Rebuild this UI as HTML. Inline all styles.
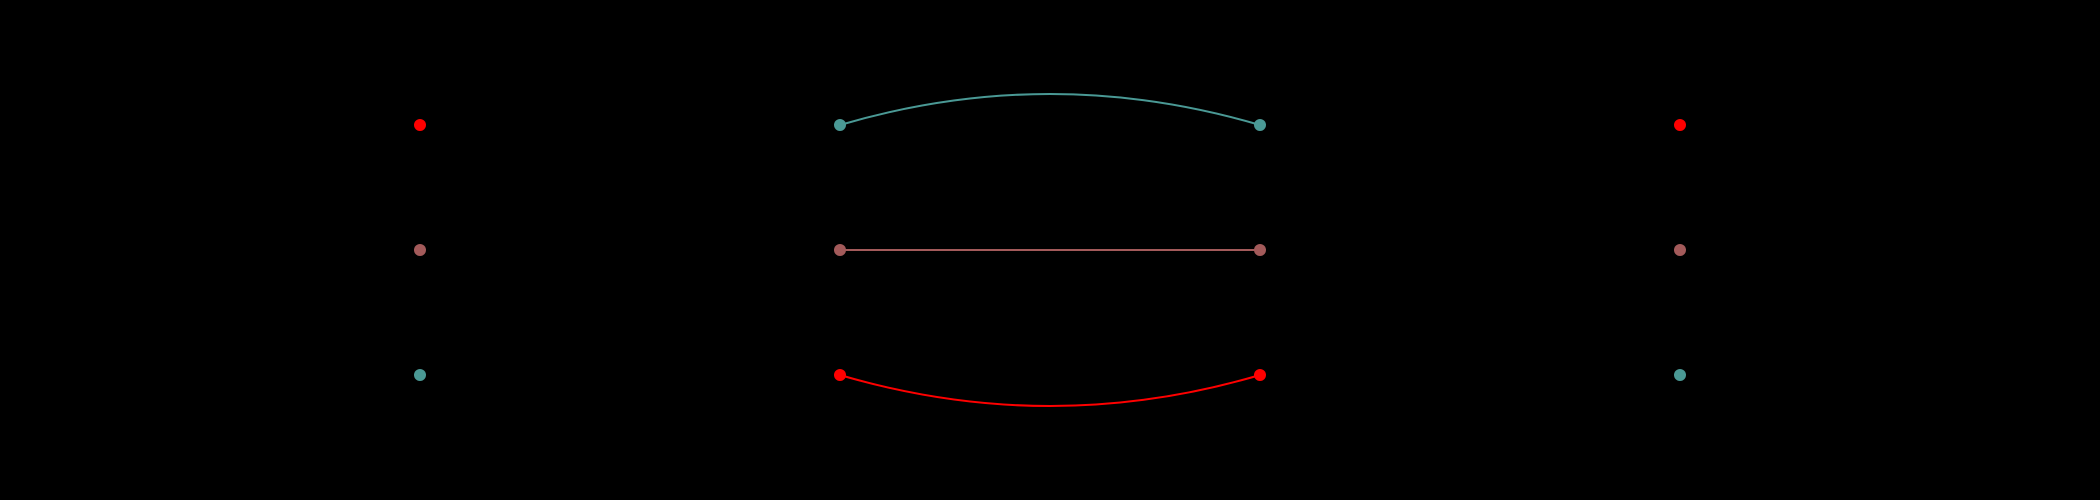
<!DOCTYPE html>
<html><head><meta charset="utf-8"><style>html,body{margin:0;background:#000;width:2100px;height:500px;overflow:hidden}</style></head>
<body>
<svg id="chart" width="2100" height="500" xmlns="http://www.w3.org/2000/svg"></svg>
<script>
const columns = [0, 1, 2, 3];
const rows = [0, 1, 2];
const leftColors = ["#ff0000", "#a35a5a", "#4a9995"];
const midColors = ["#4a9995", "#a35a5a", "#ff0000"];
const links = [[0, 0, -1], [1, 1, 0], [2, 2, 1]];
const svg = document.getElementById('chart');
const NS = 'http://www.w3.org/2000/svg';
const xs = c => 420 + c * 420;
const ys = r => 125 + r * 125;
links.forEach((l, i) => {
  const x1 = xs(1), x2 = xs(2), y = ys(l[0]);
  const cy = y + l[2] * 62;
  const p = document.createElementNS(NS, 'path');
  p.setAttribute('d', `M${x1},${y} Q${(x1 + x2) / 2},${cy} ${x2},${y}`);
  p.setAttribute('fill', 'none');
  p.setAttribute('stroke', midColors[l[0]]);
  p.setAttribute('stroke-width', '2');
  
  
  svg.appendChild(p);
});
columns.forEach(c => rows.forEach(r => {
  const col = (c === 0 || c === 3) ? leftColors[r] : midColors[r];
  const n = document.createElementNS(NS, 'circle');
  n.setAttribute('cx', xs(c));
  n.setAttribute('cy', ys(r));
  n.setAttribute('r', 6);
  n.setAttribute('fill', col);
  
  
  svg.appendChild(n);
}));
</script>
</body></html>
